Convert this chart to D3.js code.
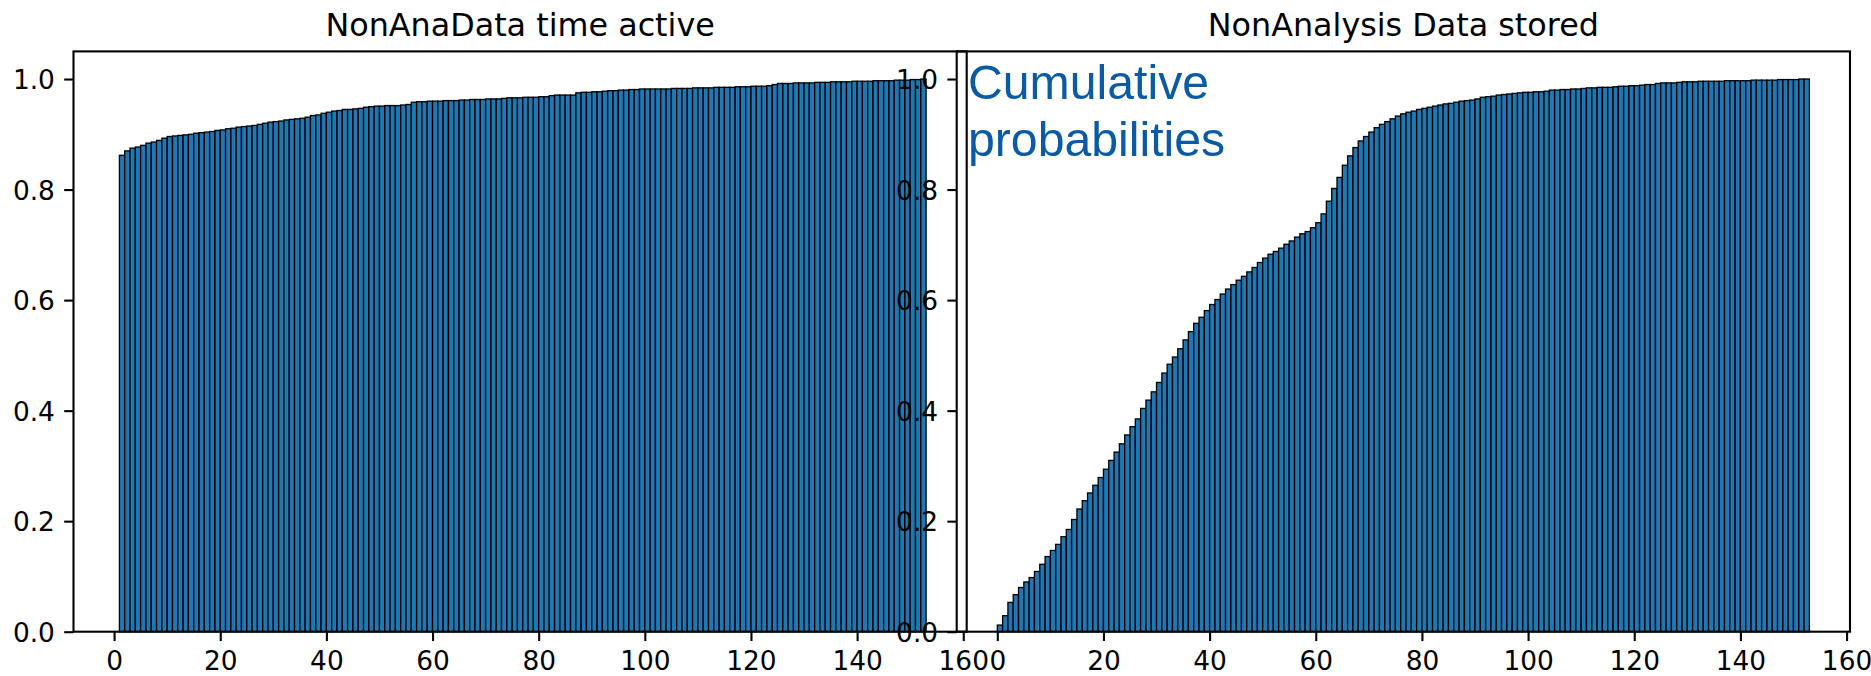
<!DOCTYPE html>
<html>
<head>
<meta charset="utf-8">
<script src="https://cdn.jsdelivr.net/npm/d3@7"></script>
<style>
  html, body { margin: 0; padding: 0; background: #fff; }
  svg { display: block; }
</style>
</head>
<body>
<svg id="chart" width="1871" height="676"></svg>
<script>
// Cumulative probability per unit-wide bin; bar k spans [k, k+1].
const timeActive = [
  0.000, 0.862, 0.870, 0.875, 0.877, 0.880, 0.884, 0.886, 0.889, 0.893,
  0.896, 0.897, 0.898, 0.899, 0.900, 0.902, 0.903, 0.904, 0.905, 0.907,
  0.908, 0.910, 0.911, 0.913, 0.914, 0.915, 0.916, 0.918, 0.920, 0.922,
  0.923, 0.924, 0.926, 0.927, 0.928, 0.929, 0.931, 0.934, 0.935, 0.938,
  0.940, 0.942, 0.943, 0.945, 0.945, 0.946, 0.947, 0.949, 0.950, 0.951,
  0.951, 0.952, 0.952, 0.952, 0.953, 0.954, 0.958, 0.959, 0.959, 0.960,
  0.960, 0.960, 0.961, 0.961, 0.961, 0.962, 0.962, 0.963, 0.963, 0.963,
  0.964, 0.964, 0.964, 0.965, 0.966, 0.966, 0.966, 0.967, 0.967, 0.967,
  0.968, 0.968, 0.970, 0.971, 0.971, 0.971, 0.971, 0.975, 0.976, 0.976,
  0.977, 0.977, 0.978, 0.979, 0.979, 0.980, 0.980, 0.981, 0.981, 0.982,
  0.982, 0.982, 0.982, 0.982, 0.982, 0.983, 0.983, 0.983, 0.983, 0.984,
  0.984, 0.984, 0.984, 0.985, 0.985, 0.985, 0.985, 0.986, 0.986, 0.986,
  0.987, 0.987, 0.987, 0.988, 0.990, 0.992, 0.992, 0.992, 0.993, 0.993,
  0.993, 0.993, 0.994, 0.994, 0.994, 0.995, 0.995, 0.995, 0.995, 0.996,
  0.996, 0.996, 0.996, 0.997, 0.997, 0.997, 0.997, 0.998, 0.998, 0.998,
  0.999, 0.999, 1.000
];

const dataStored = [
  0.012, 0.029, 0.053, 0.067, 0.080, 0.090, 0.098, 0.109, 0.122, 0.136,
  0.147, 0.158, 0.172, 0.185, 0.203, 0.222, 0.237, 0.251, 0.265, 0.279,
  0.294, 0.310, 0.325, 0.340, 0.356, 0.371, 0.385, 0.404, 0.419, 0.434,
  0.451, 0.468, 0.484, 0.497, 0.512, 0.528, 0.543, 0.558, 0.569, 0.581,
  0.592, 0.601, 0.611, 0.620, 0.628, 0.636, 0.643, 0.651, 0.659, 0.668,
  0.676, 0.683, 0.688, 0.694, 0.701, 0.707, 0.714, 0.720, 0.724, 0.731,
  0.740, 0.756, 0.779, 0.802, 0.822, 0.844, 0.861, 0.876, 0.888, 0.896,
  0.904, 0.912, 0.918, 0.923, 0.928, 0.933, 0.937, 0.940, 0.942, 0.945,
  0.947, 0.949, 0.951, 0.953, 0.955, 0.956, 0.958, 0.960, 0.961, 0.962,
  0.964, 0.967, 0.968, 0.969, 0.971, 0.972, 0.973, 0.974, 0.975, 0.976,
  0.976, 0.977, 0.977, 0.978, 0.980, 0.980, 0.981, 0.981, 0.982, 0.982,
  0.983, 0.984, 0.984, 0.985, 0.985, 0.985, 0.986, 0.987, 0.987, 0.988,
  0.988, 0.989, 0.990, 0.990, 0.992, 0.993, 0.993, 0.993, 0.994, 0.995,
  0.995, 0.995, 0.996, 0.996, 0.996, 0.996, 0.996, 0.997, 0.997, 0.997,
  0.997, 0.997, 0.998, 0.998, 0.998, 0.998, 0.998, 0.999, 0.999, 0.999,
  0.999, 1.000, 1.000
];

const panelTitles = ["NonAnaData time active", "NonAnalysis Data stored"];
const xTickValues = [0, 20, 40, 60, 80, 100, 120, 140, 160];
const yTickValues = [0.0, 0.2, 0.4, 0.6, 0.8, 1.0];
const annotationLines = ["Cumulative", "probabilities"];

const svg = d3.select("#chart");
svg.append("rect").attr("width", 1871).attr("height", 676).attr("fill", "#fff");

const plotTop = 51.4, plotBottom = 631.7;
const tickLen = 9.3, tickPad = 9.3;
const tickFont = "DejaVu Sans, Verdana, sans-serif";

function drawPanel(values, title, left, right) {
  const g = svg.append("g");
  const x = d3.scaleLinear().domain([-7.65, 160.65]).range([left, right]);
  const y = d3.scaleLinear().domain([0, 1.05]).range([plotBottom, plotTop]);

  g.append("g").selectAll("rect")
    .data(values)
    .join("rect")
    .attr("x", (d, i) => x(i))
    .attr("width", (d, i) => x(i + 1) - x(i))
    .attr("y", d => y(d))
    .attr("height", d => y(0) - y(d))
    .attr("fill", "#1f77b4")
    .attr("stroke", "#000")
    .attr("stroke-width", 1.3);

  const xAxis = g.append("g")
    .attr("transform", `translate(0,${plotBottom})`)
    .call(d3.axisBottom(x).tickValues(xTickValues).tickSize(tickLen).tickPadding(tickPad)
      .tickFormat(d3.format("d")));
  const yAxis = g.append("g")
    .attr("transform", `translate(${left},0)`)
    .call(d3.axisLeft(y).tickValues(yTickValues).tickSize(tickLen).tickPadding(tickPad)
      .tickFormat(d3.format(".1f")));

  [xAxis, yAxis].forEach(ax => {
    ax.select(".domain").remove();
    ax.selectAll(".tick line").attr("stroke", "#000").attr("stroke-width", 2.1);
    ax.selectAll(".tick text")
      .attr("fill", "#000")
      .style("font-family", tickFont)
      .style("font-size", "26.4px");
  });
  xAxis.selectAll(".tick text").attr("y", tickLen + tickPad).attr("dy", "0.76em");
  yAxis.selectAll(".tick text").attr("dy", "0.36em");

  g.append("rect")
    .attr("x", left).attr("y", plotTop)
    .attr("width", right - left).attr("height", plotBottom - plotTop)
    .attr("fill", "none").attr("stroke", "#000").attr("stroke-width", 2.1);

  g.append("text")
    .attr("x", (left + right) / 2)
    .attr("y", 35.5)
    .attr("text-anchor", "middle")
    .style("font-family", tickFont)
    .style("font-size", "31.8px")
    .attr("fill", "#000")
    .text(title);
}

drawPanel(timeActive, panelTitles[0], 73.5, 966.7);
drawPanel(dataStored, panelTitles[1], 956.7, 1850);

const note = svg.append("text")
  .attr("x", 968)
  .attr("y", 99)
  .attr("fill", "#0a5aa6")
  .style("font-family", "Liberation Sans, Arial, Helvetica, sans-serif")
  .style("font-size", "48.2px");
annotationLines.forEach((line, i) => {
  note.append("tspan").attr("x", 968).attr("dy", i === 0 ? 0 : 56.5).text(line);
});
</script>
</body>
</html>
